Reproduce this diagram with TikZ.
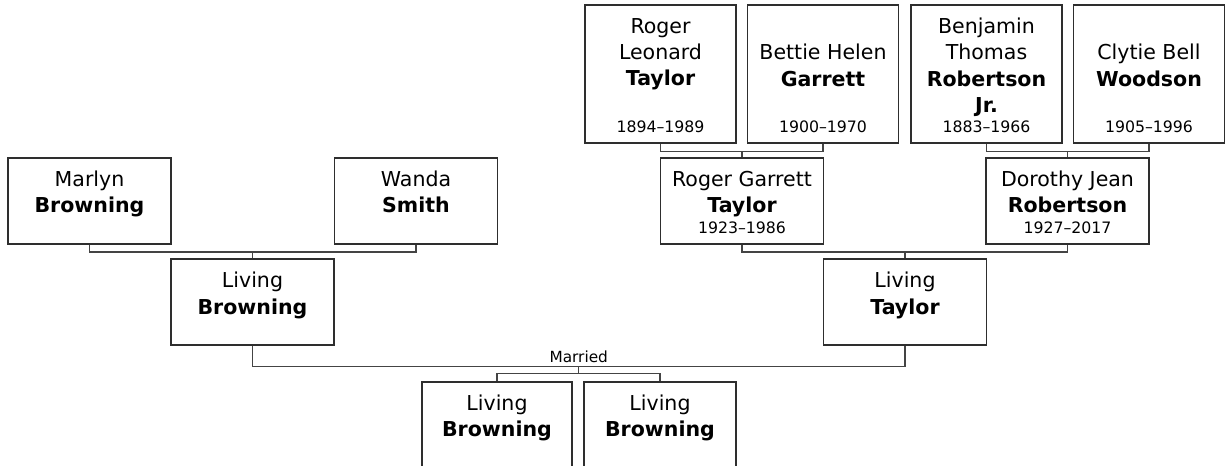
\documentclass[tikz,border=0pt]{standalone}
\usepackage{fontspec}
\setmainfont{DejaVu Sans}
\usetikzlibrary{calc}
\newlength\upx \setlength\upx{0.75pt}
\newcommand{\fl}{\rule{0pt}{15\upx}}
\definecolor{boxline}{HTML}{2E2E2E}
\definecolor{connline}{HTML}{444444}
\begin{document}
\begin{tikzpicture}[x=0.75pt,y=-0.75pt,
  person/.style={draw=boxline, line width=1.4\upx, inner sep=0pt, minimum height=86\upx, minimum width=163\upx},
  tallbox/.style={person, minimum width=151\upx, minimum height=138\upx},
  namet/.style={anchor=north, inner sep=0pt, align=center, font=\fontsize{15.4}{19.75}\selectfont, text=black},
  datet/.style={anchor=base, inner sep=0pt, font=\fontsize{11.8}{14}\selectfont, text=black},
  conn/.style={draw=connline, line width=1.4\upx},
]
\useasboundingbox (0,0) rectangle (1227,466);
\clip (0,0) rectangle (1227,466);
\fill[white] (0,0) rectangle (1227,466);

% top row (great-grandparents)
\node[tallbox] (rlt) at (660.5,74) {};
\node[tallbox] (bhg) at (823,74) {};
\node[tallbox] (btr) at (986.5,74) {};
\node[tallbox] (cbw) at (1149,74) {};
\node[namet] (rlt-n) at ($(rlt.north)+(0,13.5)$) {\fl Roger\\Leonard\\\textbf{Taylor}};
\node[namet] (bhg-n) at ($(bhg.north)+(0,39.8)$) {\fl Bettie Helen\\\textbf{Garrett}};
\node[namet] (btr-n) at ($(btr.north)+(0,13.5)$) {\fl Benjamin\\Thomas\\\textbf{Robertson}\\\textbf{Jr.}};
\node[namet] (cbw-n) at ($(cbw.north)+(0,39.8)$) {\fl Clytie Bell\\\textbf{Woodson}};
\node[datet] (rlt-d) at ($(rlt.south)+(0,-11.5)$) {1894–1989};
\node[datet] (bhg-d) at ($(bhg.south)+(0,-11.5)$) {1900–1970};
\node[datet] (btr-d) at ($(btr.south)+(0,-11.5)$) {1883–1966};
\node[datet] (cbw-d) at ($(cbw.south)+(0,-11.5)$) {1905–1996};

% second row (grandparents)
\node[person] (mb) at (89.5,201) {};
\node[person] (ws) at (416,201) {};
\node[person] (rgt) at (742,201) {};
\node[person] (djr) at (1067.5,201) {};
\node[namet] (mb-n) at ($(mb.north)+(0,13.5)$) {\fl Marlyn\\\textbf{Browning}};
\node[namet] (ws-n) at ($(ws.north)+(0,13.5)$) {\fl Wanda\\\textbf{Smith}};
\node[namet] (rgt-n) at ($(rgt.north)+(0,13.5)$) {\fl Roger Garrett\\\textbf{Taylor}};
\node[namet] (djr-n) at ($(djr.north)+(0,13.5)$) {\fl Dorothy Jean\\\textbf{Robertson}};
\node[datet] (rgt-d) at ($(rgt.south)+(0,-11.5)$) {1923–1986};
\node[datet] (djr-d) at ($(djr.south)+(0,-11.5)$) {1927–2017};

% third row (parents)
\node[person] (lb) at (252.5,302) {};
\node[person] (lt) at (905,302) {};
\node[namet] (lb-n) at ($(lb.north)+(0,13.5)$) {\fl Living\\\textbf{Browning}};
\node[namet] (lt-n) at ($(lt.north)+(0,13.5)$) {\fl Living\\\textbf{Taylor}};

% children
\node[person, minimum width=150\upx] (c1) at (497,425) {};
\node[person, minimum width=152\upx] (c2) at (660,425) {};
\node[namet] (c1-n) at ($(c1.north)+(0,13)$) {\fl Living\\\textbf{Browning}};
\node[namet] (c2-n) at ($(c2.north)+(0,13)$) {\fl Living\\\textbf{Browning}};

% connectors: top row couples
\draw[conn] (rlt.south) -- ++(0,8) coordinate (b1) -| (bhg.south);
\draw[conn] (rgt.north) -- (rgt.north |- b1);
\draw[conn] (btr.south) -- ++(0,8) coordinate (b2) -| (cbw.south);
\draw[conn] (djr.north) -- (djr.north |- b2);

% second row couples
\draw[conn] (mb.south) -- ++(0,7.5) coordinate (b3) -| (ws.south);
\draw[conn] (lb.north) -- (lb.north |- b3);
\draw[conn] (rgt.south) -- ++(0,7.5) coordinate (b4) -| (djr.south);
\draw[conn] (lt.north) -- (lt.north |- b4);

% marriage
\coordinate (ml) at ($(lb.south)+(0,21)$);
\coordinate (mr) at ($(lt.south)+(0,21)$);
\draw[conn] (lb.south) -- (ml) -- node[above, inner sep=3.5\upx, font=\fontsize{11.5}{13}\selectfont, text=black] (mar) {Married} (mr) -- (lt.south);
\coordinate (mm) at ($(ml)!0.5!(mr)$);
\draw[conn] (c1.north) -- ++(0,-8) coordinate (cb) -| (c2.north);
\draw[conn] (mm) -- (mm |- cb);
\end{tikzpicture}
\end{document}
